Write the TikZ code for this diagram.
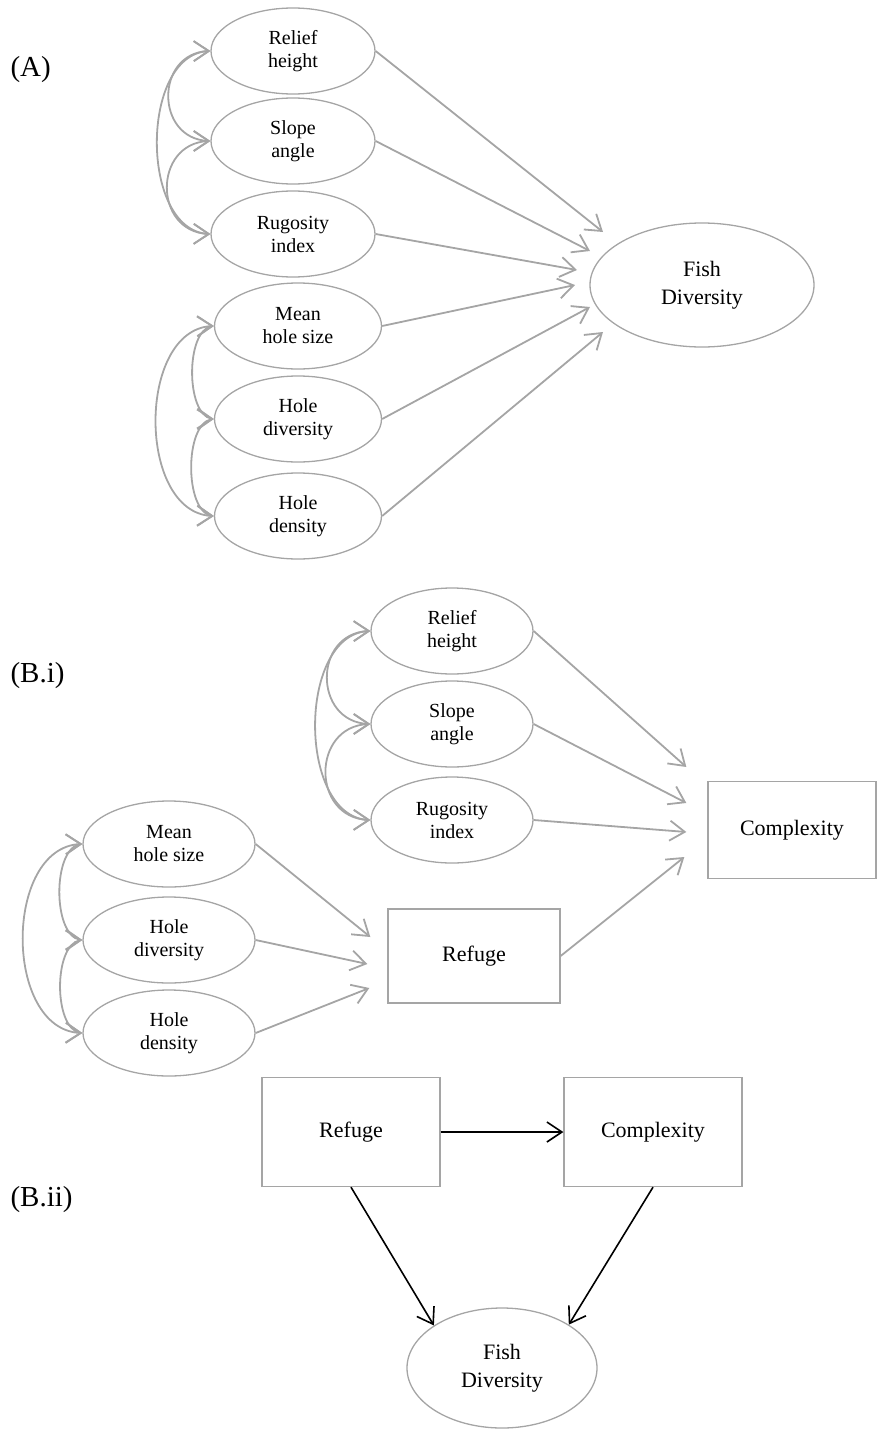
\documentclass[tikz,border=0pt]{standalone}
\usepackage{fontspec}
\setmainfont{Liberation Serif}
\usetikzlibrary{arrows.meta,shapes.geometric,bending}

\definecolor{linegray}{RGB}{165,165,165}

\tikzset{
  obs/.style={ellipse, draw=linegray, line width=1.3pt, inner sep=0pt,
    minimum width=#1, minimum height=86pt, align=center,
    font=\fontsize{20}{23}\selectfont},
  outcome/.style={ellipse, draw=linegray, line width=1.3pt, inner sep=0pt,
    align=center, font=\fontsize{22}{28}\selectfont},
  construct/.style={rectangle, draw=linegray, line width=1.3pt, inner sep=0pt,
    align=center, font=\fontsize{22}{28}\selectfont},
  panel/.style={anchor=west, font=\fontsize{29}{32}\selectfont},
  barb/.tip={Straight Barb[length=15pt,width=20pt]},
  effect/.style={draw=linegray, line width=1.8pt, -barb},
  covar/.style={draw=linegray, line width=1.8pt, barb-barb,
    out=180, in=180, looseness=#1},
  direct/.style={draw=black, line width=1.6pt, -barb},
}

\begin{document}
\begin{tikzpicture}[x=1pt,y=-1pt]
\useasboundingbox (0,0) rectangle (877,1429);

%%%%% (A) %%%%%
\node[panel] (labA) at (7,70) {(A)};

\node[obs=164pt] (reliefA) at (293,51) {Relief\\height};
\node[obs=164pt] (slopeA) at (293,141) {Slope\\angle};
\node[obs=164pt] (rugA) at (293,234) {Rugosity\\index};
\node[obs=167pt] (meanA) at (298,326) {Mean\\hole size};
\node[obs=167pt] (divA) at (298,419) {Hole\\diversity};
\node[obs=167pt] (densA) at (298,516) {Hole\\density};

\node[outcome, minimum width=224pt, minimum height=124pt] (fishA) at (702,285) {Fish\\Diversity};

\draw[covar=1.6] (reliefA.west) to (slopeA.west);
\draw[covar=1.6] (slopeA.west) to (rugA.west);
\draw[covar=1.0] (reliefA.west) to (rugA.west);
\draw[covar=0.8] (meanA.west) to (divA.west);
\draw[covar=0.8] (divA.west) to (densA.west);
\draw[covar=1.05] (meanA.west) to (densA.west);

\draw[effect] (reliefA.east) -- ([shift={(-99,-53)}]fishA.center);
\draw[effect] (slopeA.east) -- ([shift={(-112,-34)}]fishA.center);
\draw[effect] (rugA.east) -- ([shift={(-125,-15)}]fishA.center);
\draw[effect] (meanA.east) -- ([shift={(-127,0)}]fishA.center);
\draw[effect] (divA.east) -- ([shift={(-112,22)}]fishA.center);
\draw[effect] (densA.east) -- ([shift={(-99,47)}]fishA.center);

%%%%% (B.i) %%%%%
\node[panel] (labBi) at (7,676) {(B.i)};

\node[obs=162pt] (reliefB) at (452,631) {Relief\\height};
\node[obs=162pt] (slopeB) at (452,724) {Slope\\angle};
\node[obs=162pt] (rugB) at (452,820) {Rugosity\\index};
\node[obs=172pt] (meanB) at (169,844) {Mean\\hole size};
\node[obs=172pt] (divB) at (169,940) {Hole\\diversity};
\node[obs=172pt] (densB) at (169,1033) {Hole\\density};

\node[construct, minimum width=168pt, minimum height=97pt] (complexB) at (792,830) {Complexity};
\node[construct, minimum width=172pt, minimum height=94pt] (refugeB) at (474,956) {Refuge};

\draw[covar=1.6] (reliefB.west) to (slopeB.west);
\draw[covar=1.6] (slopeB.west) to (rugB.west);
\draw[covar=1.0] (reliefB.west) to (rugB.west);
\draw[covar=0.82] (meanB.west) to (divB.west);
\draw[covar=0.82] (divB.west) to (densB.west);
\draw[covar=1.08] (meanB.west) to (densB.west);

\draw[effect] (reliefB.east) -- ([shift={(-21,-63)}]complexB.west);
\draw[effect] (slopeB.east) -- ([shift={(-21,-27)}]complexB.west);
\draw[effect] (rugB.east) -- ([shift={(-21,2)}]complexB.west);
\draw[effect] (refugeB.east) -- ([shift={(-23,27)}]complexB.west);

\draw[effect] (meanB.east) -- ([shift={(-17,-19)}]refugeB.west);
\draw[effect] (divB.east) -- ([shift={(-20,8)}]refugeB.west);
\draw[effect] (densB.east) -- ([shift={(-18,32)}]refugeB.west);

%%%%% (B.ii) %%%%%
\node[panel] (labBii) at (7,1200) {(B.ii)};

\node[construct, minimum width=178pt, minimum height=109pt] (refugeC) at (351,1132) {Refuge};
\node[construct, minimum width=178pt, minimum height=109pt] (complexC) at (653,1132) {Complexity};
\node[outcome, minimum width=190pt, minimum height=120pt] (fishB) at (502,1368) {Fish\\Diversity};

\draw[direct] (refugeC.east) -- (complexC.west);
\draw[direct] (refugeC.south) -- (fishB.148);
\draw[direct] (complexC.south) -- (fishB.33);

\end{tikzpicture}
\end{document}
